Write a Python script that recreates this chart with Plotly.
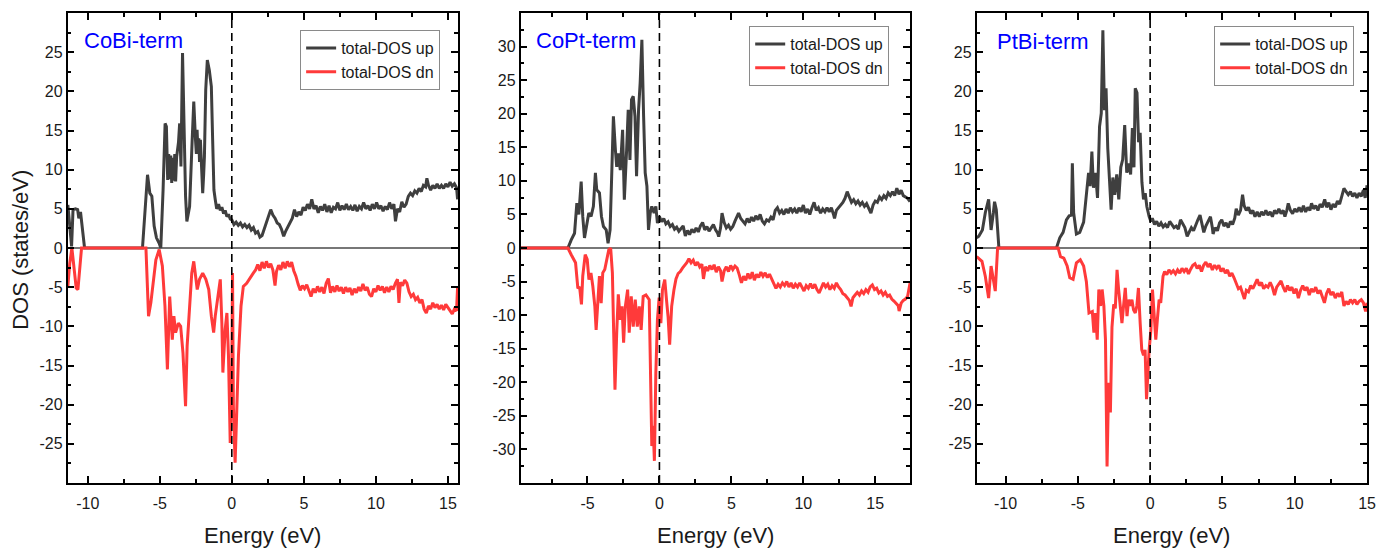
import plotly.graph_objects as go

# ---------------- data ----------------
panel_names = ["CoBi-term", "CoPt-term", "PtBi-term"]
legend_up = "total-DOS up"
legend_dn = "total-DOS dn"

# Panel 1 : CoBi-term
e1_up = [-11.38, -11.25, -11.12, -11.02, -10.85, -10.7, -10.62, -10.5, -10.38, -10.22, -6.2, -6.0, -5.85, -5.69,
         -5.55, -5.39, -5.23, -5.04, -4.93, -4.77, -4.63, -4.54, -4.45, -4.38, -4.31, -4.24, -4.17, -4.1, -4.03,
         -3.96, -3.9, -3.83, -3.76, -3.7, -3.62, -3.53, -3.42, -3.32, -3.21, -3.12, -2.93, -2.75, -2.64, -2.52,
         -2.46, -2.41, -2.35, -2.29, -2.24, -2.18, -2.1, -2.02, -1.95, -1.9, -1.81, -1.7, -1.56, -1.42, -1.33,
         -1.24, -1.15, -1.05, -0.92, -0.8, -0.69, -0.57, -0.46, -0.34, -0.23, -0.11,
         0.0, 0.15, 0.3, 0.45, 0.6, 0.75, 0.9, 1.05, 1.2, 1.35, 1.5, 1.65, 1.8, 1.95, 2.1, 2.25, 2.4, 2.55, 2.7,
         2.85, 3.0, 3.15, 3.3, 3.45, 3.6, 3.75, 3.9, 4.05, 4.2, 4.35, 4.5, 4.65, 4.8, 4.95, 5.1, 5.25, 5.4, 5.55,
         5.7, 5.85, 6.0, 6.15, 6.3, 6.45, 6.6, 6.75, 6.9, 7.05, 7.2, 7.35, 7.5, 7.65, 7.8, 7.95, 8.1, 8.25, 8.4,
         8.55, 8.7, 8.85, 9.0, 9.15, 9.3, 9.45, 9.6, 9.75, 9.9, 10.05, 10.2, 10.35, 10.5, 10.65, 10.8, 10.95,
         11.1, 11.25, 11.36, 11.5, 11.65, 11.8, 11.95, 12.1, 12.25, 12.4, 12.55, 12.7, 12.85, 13.0, 13.15, 13.3,
         13.45, 13.54, 13.65, 13.8, 13.95, 14.1, 14.25, 14.4, 14.55, 14.7, 14.85, 15.0, 15.15, 15.3, 15.45, 15.6,
         15.67]
d1_up = [5.5, 3.0, 0.2, 4.9, 5.0, 4.9, 3.8, 4.6, 2.5, 0.0, 0.0, 5.0, 9.35, 7.0,
         6.6, 2.8, 1.3, 0.6, 0.0, 7.4, 15.9, 15.5, 8.7, 12.0, 8.8, 11.8, 8.3, 11.5, 8.6,
         12.0, 8.5, 11.6, 12.5, 13.5, 15.9, 10.4, 24.9, 13.8, 6.6, 3.4, 5.3, 13.8, 18.7, 13.8,
         12.0, 15.1, 12.2, 14.0, 11.0, 13.8, 9.0, 7.0, 9.5, 11.7, 20.2, 24.0, 22.7, 20.6, 13.8,
         7.4, 6.2, 5.0, 5.6, 4.8, 5.2, 4.4, 4.8, 4.0, 4.3, 3.7,
         3.6, 3.0, 3.3, 2.9, 3.2, 2.7, 3.0, 2.6, 2.9, 2.3, 2.6, 1.9, 2.1, 1.4, 1.6, 2.5, 3.2, 4.0, 4.9,
         4.2, 3.8, 3.2, 3.0, 2.4, 1.5, 2.2, 2.8, 3.3, 3.8, 4.9, 4.0, 4.6, 4.2, 5.2, 4.8, 5.6, 5.0, 6.2,
         5.0, 5.4, 4.5, 5.3, 4.8, 5.6, 4.6, 5.4, 4.5, 5.2, 5.0, 5.8, 4.8, 5.4, 4.9, 5.6, 4.9, 5.3, 4.8,
         5.5, 4.7, 5.3, 5.0, 5.8, 5.0, 5.4, 4.8, 5.6, 5.0, 5.8, 5.0, 5.4, 4.7, 5.3, 4.9, 5.8,
         5.0, 5.6, 3.4, 5.0, 4.6, 5.9, 5.2, 5.6, 6.6, 7.0, 6.7, 7.3, 7.0, 7.6, 7.2, 8.0,
         7.8, 8.9, 8.0, 7.4, 8.0, 7.6, 8.2, 7.6, 8.0, 7.6, 8.2, 7.8, 8.4, 7.9, 8.2, 7.7,
         6.2]
e1_dn = [-11.38, -11.25, -11.1, -10.95, -10.8, -10.68, -10.55, -10.43, -5.96, -5.85, -5.78, -5.62, -5.5, -5.27,
         -5.04, -4.82, -4.64, -4.47, -4.31, -4.13, -4.02, -3.9, -3.71, -3.55, -3.39, -3.21, -3.1, -2.93, -2.78,
         -2.64, -2.4, -2.24, -2.02, -1.8, -1.6, -1.42, -1.26, -1.15, -0.99, -0.8, -0.69, -0.62, -0.46, -0.34,
         -0.23, -0.11, 0.0, 0.05, 0.11, 0.23, 0.34, 0.46, 0.64, 0.8, 1.03, 1.26, 1.49, 1.65,
         1.8, 1.95, 2.1, 2.25, 2.4, 2.55, 2.7, 2.85, 3.0, 3.1, 3.25, 3.4, 3.55, 3.7, 3.85, 4.0, 4.15, 4.3, 4.45,
         4.6, 4.75, 4.9, 5.05, 5.2, 5.35, 5.5, 5.65, 5.8, 5.95, 6.1, 6.25, 6.4, 6.55, 6.7, 6.85, 7.0, 7.15, 7.3,
         7.45, 7.6, 7.75, 7.9, 8.05, 8.2, 8.35, 8.5, 8.65, 8.8, 8.95, 9.1, 9.25, 9.4, 9.55, 9.7, 9.85, 10.0,
         10.15, 10.3, 10.45, 10.6, 10.75, 10.9, 11.05, 11.2, 11.35, 11.5, 11.6, 11.7, 11.85, 12.0, 12.15, 12.3,
         12.45, 12.6, 12.75, 12.9, 13.05, 13.2, 13.35, 13.5, 13.65, 13.8, 13.95, 14.1, 14.25, 14.4, 14.55, 14.7,
         14.85, 15.0, 15.15, 15.3, 15.45, 15.6, 15.67]
d1_dn = [-4.9, -2.0, 0.0, -3.0, -5.1, -5.3, -3.0, 0.0, 0.0, -5.3, -8.7, -7.0, -5.3, -1.5,
         -0.2, -2.3, -7.4, -15.5, -6.2, -11.7, -8.7, -10.8, -9.6, -10.0, -13.4, -20.2, -12.5, -6.6, -3.2,
         -1.7, -5.3, -4.0, -3.2, -4.0, -5.3, -8.7, -10.8, -8.7, -6.6, -4.0, -9.6, -15.9, -10.4, -8.3,
         -13.8, -24.9, -15.1, -3.2, -20.2, -27.4, -21.0, -13.8, -7.4, -4.9, -4.5, -3.8, -3.2, -2.8,
         -2.1, -2.9, -1.8, -2.6, -1.7, -2.5, -2.0, -2.8, -4.8, -3.0, -2.2, -2.8, -1.8, -2.6, -1.7, -2.4, -1.8, -2.9, -3.6,
         -4.6, -5.4, -4.8, -5.2, -4.7, -5.6, -6.2, -5.2, -5.7, -4.9, -5.6, -5.0, -5.8, -4.5, -3.9, -5.7, -4.9, -5.6, -4.8,
         -5.5, -5.0, -5.8, -5.0, -5.6, -5.1, -6.0, -5.2, -5.7, -5.0, -5.5, -4.6, -5.4, -5.0, -5.9, -6.2, -5.2, -5.6,
         -4.8, -5.4, -4.9, -5.7, -5.0, -5.6, -4.9, -5.3, -4.5, -4.0, -7.0, -4.4, -4.8, -4.1, -4.5, -5.6,
         -6.2, -5.9, -6.6, -6.3, -7.0, -6.6, -7.8, -8.3, -7.4, -7.8, -7.0, -7.6, -7.2, -7.8, -7.3, -7.9,
         -7.2, -7.6, -7.9, -8.4, -7.8, -8.0, -5.0]

# Panel 2 : CoPt-term
e2_up = [-9.65, -6.36, -6.13, -5.9, -5.74, -5.6, -5.44, -5.33, -5.21, -5.05, -4.91, -4.75, -4.59, -4.45, -4.36,
         -4.17, -4.03, -3.89, -3.7, -3.57, -3.43, -3.3, -3.2, -3.06, -2.97, -2.86, -2.72, -2.56, -2.44, -2.28,
         -2.17, -2.05, -1.94, -1.82, -1.7, -1.59, -1.45, -1.34, -1.22, -1.1, -0.99, -0.87, -0.76, -0.64, -0.53,
         -0.37, -0.25, -0.14,
         0.0, 0.15, 0.3, 0.45, 0.6, 0.75, 0.9, 1.05, 1.2, 1.35, 1.5, 1.65, 1.8, 1.95, 2.1, 2.25, 2.4, 2.55, 2.7,
         2.85, 3.0, 3.15, 3.3, 3.45, 3.6, 3.75, 3.9, 4.05, 4.12, 4.25, 4.35, 4.5, 4.65, 4.8, 4.95, 5.1, 5.25,
         5.4, 5.5, 5.65, 5.8, 5.95, 6.1, 6.25, 6.4, 6.55, 6.7, 6.85, 7.0, 7.15, 7.3, 7.45, 7.6, 7.75, 7.9, 8.05,
         8.2, 8.35, 8.5, 8.65, 8.8, 8.95, 9.1, 9.25, 9.4, 9.55, 9.7, 9.85, 10.0, 10.15, 10.3, 10.45, 10.6, 10.75,
         10.9, 11.05, 11.2, 11.35, 11.5, 11.65, 11.8, 11.95, 12.1, 12.17, 12.3, 12.45, 12.6, 12.75, 12.9, 13.05,
         13.2, 13.35, 13.5, 13.65, 13.8, 13.95, 14.1, 14.25, 14.4, 14.55, 14.7, 14.85, 15.0, 15.15, 15.3, 15.45,
         15.6, 15.75, 15.9, 16.05, 16.2, 16.35, 16.5, 16.65, 16.8, 16.95, 17.1, 17.25, 17.42]
d2_up = [0.0, 0.0, 1.2, 2.2, 6.7, 5.0, 9.9, 4.7, 1.5, 3.5, 5.2, 4.7, 6.2, 11.2, 8.7,
         8.2, 4.7, 3.2, 2.7, 0.7, 2.7, 12.1, 19.6, 14.6, 12.1, 14.1, 11.6, 17.6, 7.2, 14.6,
         20.6, 13.1, 22.1, 22.6, 19.6, 10.7, 20.6, 24.6, 31.0, 19.6, 11.2, 9.2, 2.7, 5.2, 6.2,
         5.2, 6.2, 3.7,
         4.7, 3.9, 4.4, 3.6, 3.9, 3.2, 3.5, 2.8, 3.1, 2.5, 3.0, 3.3, 1.8, 2.6, 2.0, 2.8, 2.3, 3.0, 2.4,
         3.3, 3.8, 2.7, 3.2, 2.5, 3.0, 3.5, 2.7, 2.2, 1.7, 3.0, 5.2, 3.8, 3.0, 3.4, 2.8, 3.2, 4.0,
         4.6, 5.2, 4.4, 4.0, 3.6, 4.4, 3.8, 4.6, 4.0, 4.8, 4.2, 5.0, 4.0, 3.6, 4.2, 4.0, 4.6, 4.2, 5.6,
         6.0, 5.2, 5.6, 5.0, 5.8, 5.2, 6.0, 5.4, 5.8, 5.2, 6.0, 5.4, 6.4, 5.2, 5.8, 5.0, 6.0, 6.8,
         5.6, 6.0, 5.2, 5.8, 5.4, 6.0, 5.4, 6.0, 5.0, 4.4, 5.6, 6.0, 6.4, 6.8, 7.4, 8.4,
         7.6, 6.8, 7.2, 6.6, 7.0, 6.4, 6.8, 6.2, 6.6, 5.8, 5.2, 6.4, 7.0, 6.8, 7.6, 7.2,
         7.8, 7.4, 8.2, 7.8, 8.4, 7.8, 8.9, 8.0, 8.6, 7.8, 7.6, 7.4, 6.9]
e2_dn = [-9.65, -6.36, -6.13, -5.83, -5.67, -5.55, -5.42, -5.33, -5.16, -5.02, -4.9, -4.76, -4.63, -4.49, -4.4,
         -4.29, -4.17, -4.05, -3.94, -3.8, -3.66, -3.52, -3.39, -3.27, -3.18, -3.09, -2.97, -2.86, -2.72, -2.6,
         -2.49, -2.37, -2.21, -2.1, -1.96, -1.82, -1.68, -1.54, -1.4, -1.27, -1.13, -0.94, -0.71, -0.6, -0.53,
         -0.44, -0.35, -0.25, -0.14, -0.02, 0.1, 0.21, 0.37, 0.49, 0.6, 0.71, 0.85,
         1.01, 1.15, 1.3, 1.45, 1.6, 1.75, 1.9, 2.05, 2.2, 2.35, 2.5, 2.65, 2.8, 2.95, 3.06, 3.2, 3.35, 3.5, 3.65,
         3.8, 3.95, 4.1, 4.25, 4.35, 4.5, 4.65, 4.8, 4.95, 5.1, 5.25, 5.4, 5.55, 5.7, 5.85, 6.0, 6.15, 6.3, 6.45,
         6.6, 6.75, 6.9, 7.05, 7.2, 7.35, 7.5, 7.65, 7.8, 7.95, 8.1, 8.25, 8.4, 8.55, 8.7, 8.85, 9.0, 9.15, 9.3,
         9.45, 9.6, 9.75, 9.9, 10.05, 10.2, 10.35, 10.5, 10.65, 10.8, 10.95, 11.1, 11.25, 11.4, 11.55, 11.7,
         11.85, 12.0, 12.15, 12.3, 12.45, 12.6, 12.75, 12.9, 13.05, 13.2, 13.32, 13.45, 13.6, 13.75, 13.9, 14.05,
         14.2, 14.35, 14.5, 14.65, 14.8, 14.95, 15.1, 15.25, 15.4, 15.55, 15.7, 15.85, 16.0, 16.15, 16.3, 16.45,
         16.6, 16.66, 16.8, 16.95, 17.1, 17.25, 17.42]
d2_dn = [0.0, 0.0, -1.0, -2.2, -6.0, -5.8, -8.4, -4.2, -1.0, -1.7, -4.7, -3.7, -5.7, -8.7, -12.2,
         -8.2, -4.2, -8.2, -3.7, -3.2, -1.7, -0.25, 0.0, -3.7, -12.6, -21.1, -12.6, -6.9, -10.7, -8.7,
         -14.1, -8.7, -6.2, -12.6, -7.2, -11.7, -7.7, -11.7, -8.7, -12.2, -7.2, -7.0, -7.7, -18.6, -29.5,
         -26.5, -31.7, -18.6, -10.7, -7.4, -11.2, -6.2, -4.7, -7.7, -10.2, -14.4, -8.7,
         -6.2, -4.6, -3.8, -3.5, -3.0, -2.6, -2.2, -1.6, -2.2, -1.8, -2.6, -2.1, -2.8, -2.4, -4.6, -2.8, -3.4, -2.6, -3.2,
         -2.5, -3.6, -2.8, -3.4, -5.0, -3.4, -2.8, -3.5, -2.6, -3.2, -2.7, -3.0, -4.0, -5.2, -4.2, -4.8, -3.8, -4.6, -3.6,
         -4.8, -3.9, -4.4, -3.6, -4.2, -3.7, -4.4, -3.9, -4.6, -5.2, -6.0, -5.4, -5.8, -5.2, -5.6, -5.0, -5.8, -5.2, -6.0,
         -5.4, -5.8, -5.2, -5.9, -6.4, -5.6, -6.0, -5.3, -6.0, -5.4, -6.2, -6.7, -5.8, -5.2, -5.8, -5.4,
         -6.2, -5.6, -6.0, -5.2, -5.8, -6.2, -6.8, -7.0, -7.4, -7.8, -8.7, -7.4, -7.0, -6.6, -7.0, -6.4,
         -6.8, -6.2, -6.6, -5.8, -5.5, -6.2, -6.0, -6.7, -6.4, -7.0, -6.6, -7.2, -7.0, -7.6, -7.9, -8.2,
         -8.6, -9.4, -8.2, -7.8, -7.6, -7.2, -5.2]

# Panel 3 : PtBi-term
e3_up = [-12.0, -11.85, -11.6, -11.4, -11.17, -11.0, -10.84, -10.76, -10.64, -10.55, -10.46, -6.48, -6.25, -6.02,
         -5.79, -5.6, -5.44, -5.38, -5.29, -5.1, -4.87, -4.6, -4.42, -4.26, -4.15, -4.03, -3.92, -3.78, -3.64,
         -3.5, -3.38, -3.27, -3.16, -3.05, -2.93, -2.81, -2.7, -2.58, -2.45, -2.31, -2.17, -2.03, -1.9, -1.76,
         -1.62, -1.49, -1.35, -1.23, -1.12, -1.03, -0.91, -0.8, -0.69, -0.57, -0.46, -0.34, -0.23,
         -0.07, 0.05, 0.15, 0.3, 0.45, 0.6, 0.75, 0.9, 1.05, 1.2, 1.35, 1.5, 1.65, 1.8, 1.95, 2.1, 2.25, 2.4,
         2.56, 2.7, 2.85, 3.0, 3.15, 3.3, 3.45, 3.6, 3.71, 3.85, 4.0, 4.17, 4.3, 4.35, 4.5, 4.65, 4.8, 4.95, 5.1,
         5.25, 5.4, 5.55, 5.7, 5.85, 5.95, 6.1, 6.25, 6.39, 6.5, 6.65, 6.8, 6.95, 7.1, 7.25, 7.4, 7.55, 7.7,
         7.85, 8.0, 8.15, 8.3, 8.45, 8.6, 8.75, 8.9, 9.05, 9.2, 9.32, 9.45, 9.55, 9.7, 9.85, 10.0, 10.15, 10.3,
         10.45, 10.6, 10.75, 10.9, 11.05, 11.16, 11.3, 11.45, 11.6, 11.75, 11.9, 12.07, 12.2, 12.35, 12.5,
         12.65, 12.8, 12.95, 13.1, 13.25, 13.4, 13.55, 13.7, 13.85, 14.0, 14.15, 14.3, 14.45, 14.6, 14.75,
         14.87, 15.0]
d3_up = [1.3, 1.5, 2.3, 4.5, 6.2, 2.3, 4.5, 5.9, 4.9, 2.0, 0.0, 0.0, 1.3, 2.0,
         3.6, 4.1, 4.2, 10.8, 4.5, 1.8, 2.0, 3.3, 7.0, 9.6, 7.9, 12.3, 7.7, 9.6, 6.4,
         15.5, 17.2, 27.8, 17.6, 20.4, 12.7, 7.9, 4.9, 9.0, 6.8, 9.4, 6.2, 10.3, 11.3, 15.7,
         9.6, 10.8, 9.4, 15.3, 10.3, 20.4, 19.8, 13.5, 14.7, 8.4, 6.2, 7.0, 5.3,
         4.0, 3.4, 3.8, 3.0, 3.4, 2.8, 3.2, 2.7, 3.0, 2.6, 3.4, 3.0, 2.6, 2.8, 2.4, 3.6, 3.0, 2.6,
         1.5, 2.0, 2.6, 2.2, 3.0, 3.6, 4.2, 3.0, 2.0, 2.8, 3.4, 4.0, 2.6, 1.8, 2.6, 2.2, 3.2, 3.6, 2.8,
         3.2, 2.6, 3.4, 3.0, 3.8, 5.0, 4.2, 4.8, 6.8, 5.4, 4.8, 5.2, 4.4, 4.8, 4.0, 4.6, 4.0, 4.6,
         4.2, 4.8, 4.2, 4.6, 4.0, 4.8, 4.4, 5.0, 4.4, 4.8, 4.0, 4.8, 5.7, 4.8, 4.4, 5.0, 4.6, 5.2,
         4.6, 5.4, 4.6, 5.2, 4.8, 5.7, 5.0, 5.4, 4.8, 5.6, 5.2, 6.2, 5.2, 5.8, 4.9,
         5.6, 5.2, 6.0, 5.6, 6.6, 7.6, 7.2, 6.8, 7.2, 6.6, 7.0, 6.4, 7.0, 6.6, 7.4,
         6.4, 8.0]
e3_dn = [-12.0, -11.63, -11.4, -11.17, -11.0, -10.87, -10.71, -10.55, -6.36, -6.2, -5.97, -5.74, -5.56, -5.33,
         -5.1, -4.83, -4.6, -4.41, -4.23, -4.0, -3.89, -3.78, -3.66, -3.55, -3.43, -3.32, -3.2, -3.09, -2.98,
         -2.87, -2.75, -2.64, -2.52, -2.41, -2.29, -2.18, -2.06, -1.95, -1.83, -1.72, -1.6, -1.49, -1.38, -1.26,
         -1.15, -1.03, -0.92, -0.81, -0.69, -0.58, -0.46, -0.35, -0.25, -0.16, -0.07, 0.05, 0.16, 0.27, 0.39,
         0.5, 0.62, 0.73, 0.89, 1.0, 1.15, 1.3, 1.45, 1.6, 1.75, 1.9, 2.05, 2.2, 2.35, 2.5, 2.65, 2.8, 2.95, 3.1,
         3.25, 3.4, 3.55, 3.7, 3.85, 4.0, 4.15, 4.3, 4.45, 4.6, 4.75, 4.9, 5.05, 5.2, 5.35, 5.5, 5.65, 5.8, 5.95,
         6.1, 6.25, 6.4, 6.52, 6.65, 6.8, 6.95, 7.1, 7.25, 7.4, 7.55, 7.7, 7.85, 8.0, 8.15, 8.3, 8.45, 8.6,
         8.75, 8.9, 9.05, 9.2, 9.35, 9.5, 9.65, 9.8, 9.95, 10.1, 10.25, 10.4, 10.55, 10.7, 10.85, 11.0, 11.15,
         11.3, 11.45, 11.6, 11.75, 11.9, 12.05, 12.2, 12.35, 12.5, 12.65, 12.8, 12.95, 13.1, 13.25, 13.4, 13.55,
         13.7, 13.85, 14.0, 14.15, 14.3, 14.45, 14.6, 14.75, 14.9, 15.0]
d3_dn = [-1.1, -1.7, -3.6, -6.4, -2.3, -3.6, -5.5, 0.0, 0.0, -1.1, -1.3, -2.3, -3.8, -4.0,
         -1.9, -1.5, -2.3, -4.3, -8.3, -8.1, -10.8, -8.3, -11.7, -5.3, -7.4, -5.3, -7.4, -11.7, -27.9,
         -17.2, -21.0, -10.1, -7.2, -7.7, -2.8, -5.3, -7.4, -9.6, -7.2, -5.1, -8.7, -6.6, -7.4, -6.6,
         -7.9, -8.3, -7.4, -5.1, -9.6, -13.0, -13.7, -13.0, -19.3, -16.0, -13.0, -10.5, -5.3, -8.3, -11.7,
         -9.1, -6.6, -7.0, -3.6, -3.0, -3.4, -2.8, -3.2, -2.9, -3.3, -2.8, -3.2, -2.6, -3.0, -2.6, -3.3, -2.7, -2.2, -2.0,
         -2.6, -2.2, -3.0, -2.2, -1.8, -2.4, -2.0, -2.8, -2.2, -2.6, -2.2, -3.0, -2.6, -3.2, -2.8, -3.6, -3.2, -3.8, -4.6,
         -5.2, -5.0, -5.8, -6.5, -5.4, -5.6, -4.8, -5.2, -4.6, -4.0, -4.8, -4.4, -5.2, -4.8, -5.0, -4.4, -5.0, -6.0,
         -5.0, -4.6, -4.2, -5.0, -5.6, -4.8, -5.4, -5.0, -5.8, -5.2, -6.4, -5.4, -4.8, -5.4, -5.0, -6.0, -5.2,
         -5.6, -5.0, -5.8, -5.4, -6.2, -7.0, -5.8, -5.2, -6.0, -5.6, -6.4, -5.8, -6.2, -5.6, -7.4, -6.8,
         -7.2, -6.6, -7.0, -6.6, -7.2, -6.8, -6.6, -7.0, -8.1, -7.0]

x_ranges = [[-11.4, 15.7], [-9.65, 17.42], [-12.0, 15.0]]
y_ranges = [[-30, 30], [-35, 35], [-30, 30]]
x_tickvals = [[-10, -5, 0, 5, 10, 15], [-5, 0, 5, 10, 15], [-10, -5, 0, 5, 10, 15]]
y_tickvals = [[-25, -20, -15, -10, -5, 0, 5, 10, 15, 20, 25],
              [-30, -25, -20, -15, -10, -5, 0, 5, 10, 15, 20, 25, 30],
              [-25, -20, -15, -10, -5, 0, 5, 10, 15, 20, 25]]

# ---------------- layout geometry ----------------
W, H = 1387, 549
x_px = [(68, 461), (524, 916), (983, 1376)]
y_top, y_bot = 13, 483
legend_px = [(443, 30), (895, 26), (1363, 26)]
label_px = [(83, 40), (537, 40), (1002, 42)]

FONT = "Liberation Sans, Arial, sans-serif"
UP_COLOR = "#3f3f3f"
DN_COLOR = "#ff3a3a"

ups = [(e1_up, d1_up), (e2_up, d2_up), (e3_up, d3_up)]
dns = [(e1_dn, d1_dn), (e2_dn, d2_dn), (e3_dn, d3_dn)]

fig = go.Figure()
shapes = []
annotations = []
layout = {}

for i in range(3):
    xa = "x" if i == 0 else f"x{i+1}"
    ya = "y" if i == 0 else f"y{i+1}"
    lg = "legend" if i == 0 else f"legend{i+1}"
    fig.add_trace(go.Scatter(x=ups[i][0], y=ups[i][1], mode="lines", name=legend_up,
                             line=dict(color=UP_COLOR, width=3), xaxis=xa, yaxis=ya, legend=lg))
    fig.add_trace(go.Scatter(x=dns[i][0], y=dns[i][1], mode="lines", name=legend_dn,
                             line=dict(color=DN_COLOR, width=3), xaxis=xa, yaxis=ya, legend=lg))

    common = dict(showline=True, linecolor="black", linewidth=1.5, mirror="ticks",
                  ticks="inside", ticklen=7, tickwidth=1.5, tickcolor="black",
                  showgrid=False, zeroline=False,
                  tickfont=dict(size=16, color="#1a1a1a", family=FONT),
                  minor=dict(ticks="inside", ticklen=4, tickwidth=1.5, tickcolor="black",
                             dtick=2.5, tick0=0, showgrid=False))
    xkey = "xaxis" if i == 0 else f"xaxis{i+1}"
    ykey = "yaxis" if i == 0 else f"yaxis{i+1}"
    layout[xkey] = dict(common, domain=[x_px[i][0] / W, x_px[i][1] / W], range=x_ranges[i],
                        anchor=ya, tickmode="array", tickvals=x_tickvals[i],
                        ticktext=[str(v) for v in x_tickvals[i]], ticklabelstandoff=5)
    layout[ykey] = dict(common, domain=[1 - y_bot / H, 1 - y_top / H], range=y_ranges[i],
                        anchor=xa, tickmode="array", tickvals=y_tickvals[i],
                        ticktext=[str(v) for v in y_tickvals[i]])

    layout[lg] = dict(x=legend_px[i][0] / W, y=1 - legend_px[i][1] / H, xanchor="right", yanchor="top",
                      bgcolor="white", bordercolor="#8a8a8a", borderwidth=1,
                      font=dict(size=16, color="#1a1a1a", family=FONT), tracegroupgap=0)

    shapes.append(dict(type="line", xref=f"{xa} domain", yref=ya, x0=0, x1=1, y0=0, y1=0,
                       line=dict(color="#4a4a4a", width=1.5), layer="below"))
    shapes.append(dict(type="line", xref=xa, yref=f"{ya} domain", x0=0, x1=0, y0=0, y1=1,
                       line=dict(color="black", width=1.6, dash="8px,5px"), layer="above"))

    annotations.append(dict(text=panel_names[i], x=label_px[i][0] / W, y=1 - label_px[i][1] / H,
                            xref="paper", yref="paper", xanchor="left", yanchor="middle",
                            showarrow=False, font=dict(size=22, color="#0000ff", family=FONT)))
    annotations.append(dict(text="Energy (eV)", x=(x_px[i][0] + x_px[i][1]) / 2 / W, y=1 - 535 / H,
                            xref="paper", yref="paper", xanchor="center", yanchor="middle",
                            showarrow=False, font=dict(size=22, color="#1a1a1a", family=FONT)))

annotations.append(dict(text="DOS (states/eV)", x=20 / W, y=1 - 250 / H, xref="paper", yref="paper",
                        xanchor="center", yanchor="middle", textangle=-90, showarrow=False,
                        font=dict(size=22, color="#1a1a1a", family=FONT)))

fig.update_layout(width=W, height=H, margin=dict(l=0, r=0, t=0, b=0),
                  plot_bgcolor="white", paper_bgcolor="white", showlegend=True,
                  shapes=shapes, annotations=annotations, **layout)

fig.write_html("out.html")
